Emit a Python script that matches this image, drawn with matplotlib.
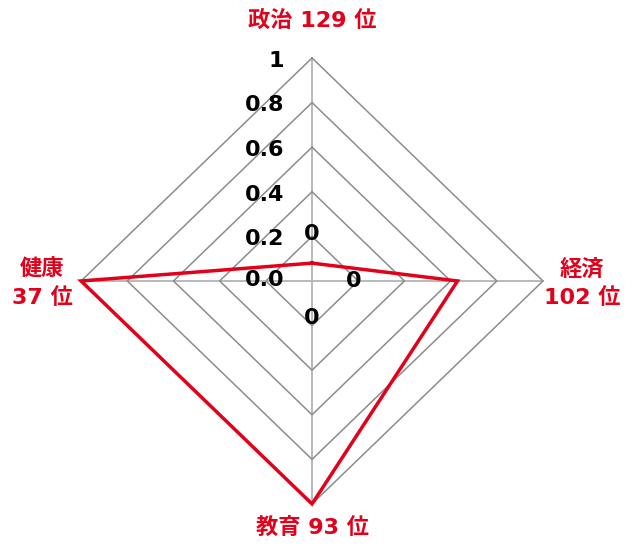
import numpy as np
import matplotlib
matplotlib.use('Agg')
import matplotlib.pyplot as plt

plt.rcParams['font.family'] = ['DejaVu Sans', 'Noto Sans CJK JP']

# data
categories = ['政治 129 位', '経済\n102 位', '教育 93 位', '健康\n37 位']
values = [0.08, 0.63, 1.0, 1.0]
levels = [0.2, 0.4, 0.6, 0.8, 1.0]
tick_labels = ['0.0', '0.2', '0.4', '0.6', '0.8', '1']
zero_series = [0, 0, 0]   # data labels of an empty series (top, right, bottom)

red = '#e2001a'
grid_c = '#8c8c8c'
axis_c = '#b3b3b3'

# axis angles: top, right, bottom, left (clockwise from top)
angles = np.array([90, 0, -90, 180]) * np.pi / 180


def to_xy(r, a):
    return r * np.cos(a), r * np.sin(a)


fig = plt.figure(figsize=(6.4, 5.47), dpi=100)
ax = fig.add_axes([0, 0, 1, 1])
ax.set_xlim(-1.351, 1.420)
ax.set_ylim(-1.193, 1.260)
ax.axis('off')

# spokes
for a in angles:
    x, y = to_xy(np.array([0, 1.0]), a)
    ax.plot(x, y, color=axis_c, lw=1.3, zorder=1)

# diamond grid
closed = np.append(angles, angles[0])
for lv in levels:
    x, y = to_xy(lv, closed)
    ax.plot(x, y, color=grid_c, lw=1.1, zorder=1)

# data polygon
vals = np.append(values, values[0])
x, y = to_xy(vals, closed)
ax.plot(x, y, color=red, lw=2.5, solid_joinstyle='miter', zorder=3)

# radial tick labels along top spoke
for i, t in enumerate(tick_labels):
    r = i * 0.2
    ax.annotate(t, xy=(0, r), xytext=(-20, -2 if i else 1), textcoords='offset points',
                ha='right', va='center', fontsize=16, fontweight='bold', color='black')

# zero data labels
offsets = [(0, 34), (30, 0), (0, -27)]
for v, a, off in zip(zero_series, angles[:3], offsets):
    x0, y0 = to_xy(v, a)
    ax.annotate(str(v), xy=(x0, y0), xytext=off, textcoords='offset points',
                ha='center', va='center', fontsize=16, fontweight='bold', color='black')

# category labels
label_pos = [(0.0, 1.17), (1.169, -0.01), (0.0, -1.11), (-1.169, -0.01)]
for lab, (lx, ly) in zip(categories, label_pos):
    ax.text(lx, ly, lab, ha='center', va='center', fontsize=16, fontweight='bold',
            color=red, linespacing=1.4)

fig.savefig('out.png', dpi=100)
